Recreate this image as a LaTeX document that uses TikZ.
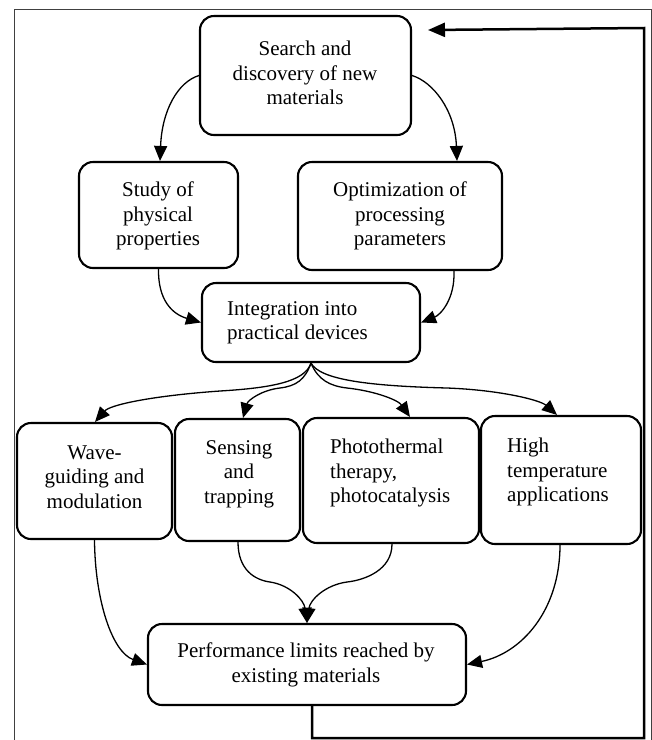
\documentclass[tikz,border=0pt]{standalone}
\usepackage{fontspec}
\setmainfont{Liberation Serif}
\usetikzlibrary{arrows.meta}
\begin{document}
\begin{tikzpicture}[x=1pt,y=-1pt,
  box/.style={draw, line width=2.1pt, rounded corners=14pt, inner sep=0pt},
  txt/.style={font=\fontsize{21}{24.5}\selectfont, align=center, inner sep=0pt},
  ltxt/.style={font=\fontsize{21}{24.5}\selectfont, align=left, inner sep=0pt, anchor=west},
  conn/.style={line width=1.3pt, -{Triangle[length=15pt,width=13pt]}},
  fb/.style={line width=2.5pt, -{Triangle[length=17pt,width=14pt]}},
  frame/.style={line width=1pt, black!75}]
\useasboundingbox (0,0) rectangle (652,740);
% frame
\draw[frame] (14,740) -- (14,9.5) -- (651,9.5) -- (651,740);

% boxes
\node[box, minimum width=211pt, minimum height=119pt] (search) at (305.5,75.5) {};
\node[txt] (searcht) at (305,73) {Search and\\discovery of new\\materials};
\node[box, minimum width=159pt, minimum height=106pt] (study) at (158.5,215) {};
\node[txt] (studyt) at (158,216) {Study of\\physical\\properties};
\node[box, minimum width=204pt, minimum height=108pt] (optim) at (400,216) {};
\node[txt] (optimt) at (400,216) {Optimization of\\processing\\parameters};
\node[box, minimum width=218pt, minimum height=79pt] (integ) at (311,322.5) {};
\node[ltxt] (integt) at (227,323) {Integration into\\practical devices};
\node[box, minimum width=155pt, minimum height=116pt] (wave) at (94.5,481) {};
\node[txt] (wavet) at (94.5,477) {Wave-\\guiding and\\modulation};
\node[box, minimum width=125pt, minimum height=122pt] (sens) at (237.5,480) {};
\node[txt] (senst) at (239,474) {Sensing\\and\\trapping};
\node[box, minimum width=176pt, minimum height=125pt] (photo) at (391,480.5) {};
\node[ltxt] (photot) at (330,473) {Photothermal\\therapy,\\photocatalysis};
\node[box, minimum width=160pt, minimum height=128pt] (high) at (561,480) {};
\node[ltxt] (hight) at (507,472) {High\\temperature\\applications};
\node[box, minimum width=318pt, minimum height=81pt] (perf) at (307,664.5) {};
\node[txt] (perft) at (306,665) {Performance limits reached by\\existing materials};

% connectors top
\draw[conn] (search.west) .. controls (178,82) and (162,110) .. ([xshift=1.5pt]study.north);
\draw[conn] (search.east) .. controls (433,82) and (455,110) .. ([xshift=57pt]optim.north);
\draw[conn] (study.south) .. controls (158,300) and (172,314) .. (integ.west);
\draw[conn] ([xshift=54pt]optim.south) .. controls (455,300) and (440,315) .. (integ.east);

% fan out
\draw[conn] (integ.south) .. controls (305,382) and (270,388) .. (220,391)
  .. controls (150,396) and (110,405) .. ([xshift=0.5pt]wave.north);
\draw[conn] (integ.south) .. controls (305,380) and (296,386) .. (280,388)
  .. controls (262,390) and (248,400) .. ([xshift=5.5pt]sens.north);
\draw[conn] (integ.south) .. controls (318,380) and (330,386) .. (347,388)
  .. controls (375,391) and (398,400) .. ([xshift=19pt]photo.north);
\draw[conn] (integ.south) .. controls (320,380) and (370,386) .. (447,388)
  .. controls (500,390) and (540,400) .. ([xshift=-4pt]high.north);

% merge
\draw[conn] ([xshift=0.5pt]sens.south) .. controls (238,570) and (255,580) .. (270,582)
  .. controls (290,585) and (304,600) .. (perf.north);
\draw[conn] ([xshift=1pt]photo.south) .. controls (392,570) and (365,580) .. (347,582)
  .. controls (325,585) and (310,600) .. (perf.north);
\draw[conn] (wave.south) .. controls (95,600) and (112,652) .. (perf.west);
\draw[conn] ([xshift=-1pt]high.south) .. controls (560,610) and (522,653) .. (perf.east);

% feedback
\coordinate (fbend) at (428,30);
\draw[fb] ([xshift=5pt]perf.south) -- (312,738) -| (644,28) -- (fbend);
\end{tikzpicture}
\end{document}
